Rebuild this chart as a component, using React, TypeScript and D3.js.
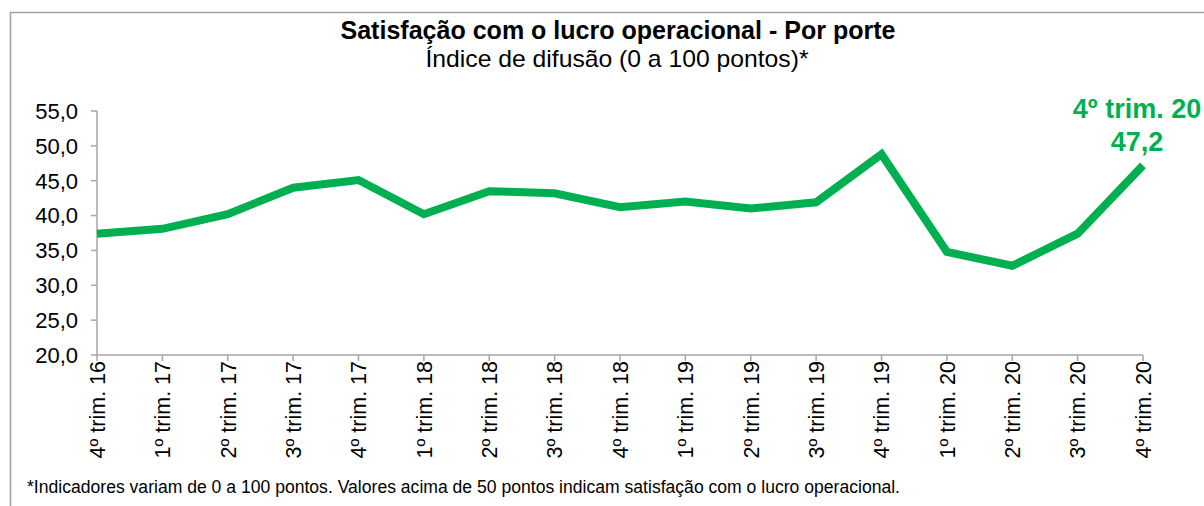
import React from "react";
import { scaleLinear, scalePoint, line } from "d3";

const quarters = [
  "4º trim. 16", "1º trim. 17", "2º trim. 17", "3º trim. 17", "4º trim. 17",
  "1º trim. 18", "2º trim. 18", "3º trim. 18", "4º trim. 18",
  "1º trim. 19", "2º trim. 19", "3º trim. 19", "4º trim. 19",
  "1º trim. 20", "2º trim. 20", "3º trim. 20", "4º trim. 20",
];
const values = [
  37.4, 38.1, 40.2, 44.0, 45.1, 40.2, 43.5, 43.2, 41.2,
  42.0, 41.0, 41.9, 48.8, 34.8, 32.8, 37.4, 47.2,
];
const yTicks = [20, 25, 30, 35, 40, 45, 50, 55];

const W = 1204;
const H = 506;
const green = "#00b050";
const axisGray = "#a6a6a6";
const font = "'Liberation Sans', Arial, sans-serif";

export default function App() {
  const x = scalePoint<string>().domain(quarters).range([97, 1143]);
  const y = scaleLinear().domain([20, 55]).range([355, 111]);

  const path = line<number>()
    .x((d, i) => x(quarters[i]) as number)
    .y((d) => y(d))(values);

  const fmt = (v: number) => v.toFixed(1).replace(".", ",");
  const lastX = x(quarters[quarters.length - 1]) as number;

  return (
    <svg width={W} height={H} style={{ position: "absolute", left: 0, top: 0 }} fontFamily={font}>
      <rect width={W} height={H} fill="#fff" />
      {/* frame */}
      <path d={`M10.5,${H} V12.5 H${W}`} fill="none" stroke="#a0a0a0" strokeWidth={1.5} />

      <text x={618} y={39} textAnchor="middle" fontSize={25} fontWeight="bold" fill="#000" textLength={555} lengthAdjust="spacingAndGlyphs">
        Satisfação com o lucro operacional - Por porte
      </text>
      <text x={617} y={67} textAnchor="middle" fontSize={24} fill="#000" textLength={383} lengthAdjust="spacingAndGlyphs">
        Índice de difusão (0 a 100 pontos)*
      </text>

      {/* y axis */}
      <line x1={97} x2={97} y1={y(55)} y2={y(20)} stroke={axisGray} strokeWidth={1.5} />
      {yTicks.map((t) => (
        <g key={t}>
          <line x1={91} x2={97} y1={y(t)} y2={y(t)} stroke={axisGray} strokeWidth={1.5} />
          <text x={78} y={y(t)} dy="0.36em" textAnchor="end" fontSize={22} fill="#000">
            {fmt(t)}
          </text>
        </g>
      ))}

      {/* x axis */}
      <line x1={97} x2={1143} y1={y(20)} y2={y(20)} stroke={axisGray} strokeWidth={1.5} />
      {quarters.map((q) => {
        const px = x(q) as number;
        return (
          <g key={q}>
            <line x1={px} x2={px} y1={y(20)} y2={y(20) + 6} stroke={axisGray} strokeWidth={1.5} />
            <text
              transform={`translate(${px},${y(20) + 6}) rotate(-90)`}
              dy="0.36em"
              textAnchor="end"
              fontSize={21.5}
              fill="#000"
            >
              {q}
            </text>
          </g>
        );
      })}

      <path d={path || ""} fill="none" stroke={green} strokeWidth={8} strokeLinejoin="miter" />

      <text x={lastX - 6} y={118} textAnchor="middle" fontSize={27} fontWeight="bold" fill={green}>
        {quarters[quarters.length - 1]}
      </text>
      <text x={lastX - 6} y={151} textAnchor="middle" fontSize={27} fontWeight="bold" fill={green}>
        {fmt(values[values.length - 1])}
      </text>

      <text x={27} y={493} fontSize={17.5} fill="#000" textLength={873} lengthAdjust="spacingAndGlyphs">
        *Indicadores variam de 0 a 100 pontos. Valores acima de 50 pontos indicam satisfação com o lucro operacional.
      </text>
    </svg>
  );
}
